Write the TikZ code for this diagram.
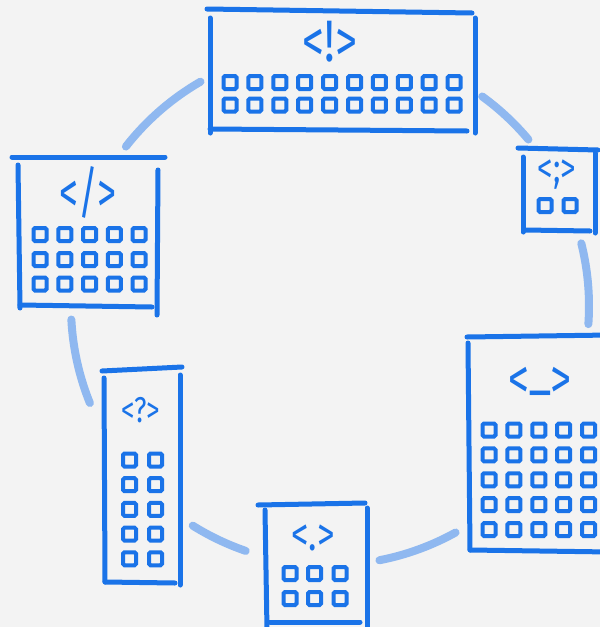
\documentclass[tikz,border=0pt]{standalone}
\usepackage{graphicx}
\usepackage{fontspec}
\newfontfamily\codefont{Fira Sans}
\definecolor{skblue}{HTML}{1A73E8}
\definecolor{sklight}{HTML}{8FB8F0}
\definecolor{skbg}{HTML}{F3F3F3}
\tikzset{
  rim/.style={draw=skblue,line width=5pt,line cap=round},
  cell/.style={draw=skblue,line width=4pt,rounded corners=1.5pt},
  ring/.style={draw=sklight,line width=8pt,line cap=round},
  codetag/.style={text=skblue,inner sep=0pt,font=\codefont\fontsize{#1}{#1}\selectfont},
}
\newcommand{\cellat}[2]{\draw[cell] ({#1-6.5},{#2-6.5}) rectangle ({#1+6.5},{#2+6.5});}
\newcommand{\tall}[2][1.33]{\scalebox{1}[#1]{#2}}

\begin{document}
\begin{tikzpicture}[x=1pt,y=-1pt]
\fill[skbg] (0,0) rectangle (600,627);
\clip (0,0) rectangle (600,627);
% ring segments between the panels
\foreach \a/\b in {-142/-120,-54/-40,-14/4,-202/-183,-251/-238,-299/-281}
  \draw[ring] ([shift={(330,306)}]\a:259) arc[start angle=\a,end angle=\b,radius=259];
% top panel
\draw[rim] (207,9) -- (472,13);
\draw[rim] (210,18) -- (210,133);
\draw[rim] (475,18) -- (475,133);
\draw[rim] (210,129) -- (467,131);
\node[codetag=44] (bang) at (330,42) {\tall{<!>}};
\foreach \i in {0,...,9} {\foreach \y in {82.5,105} {\cellat{230+24.9*\i}{\y}}}
% small right panel
\draw[rim] (518,148) -- (598,150);
\draw[rim] (523,157) -- (523,232);
\draw[rim] (595,153) -- (595,233);
\draw[rim] (525,230) -- (590,231);
\node[codetag=31] (semi) at (557,175) {\tall{<;>}};
\foreach \x in {545,570} {\cellat{\x}{205.5}}
% left panel
\draw[rim] (12,157) -- (165,157);
\draw[rim] (18,165) -- (20,308);
\draw[rim] (158,170) -- (157,315);
\draw[rim] (20,305) -- (152,307);
\node[codetag=38] (slash) at (88,192) {\tall[1.5]{</>}};
\foreach \i in {0,...,4} {\foreach \y in {234.5,259.5,284} {\cellat{40+24.75*\i}{\y}}}
% tall lower-left panel
\draw[rim] (102,371) -- (182,367);
\draw[rim] (104,378) -- (105,582);
\draw[rim] (180,375) -- (180,585);
\draw[rim] (105,582) -- (175,583);
\node[codetag=27] (query) at (141,410) {\tall{<?>}};
\foreach \x in {129.5,155.5} {\foreach \j in {0,...,4} {\cellat{\x}{460+24.7*\j}}}
% bottom panel
\draw[rim] (258,505) -- (365,503);
\draw[rim] (265,510) -- (267,630);
\draw[rim] (367,508) -- (367,630);
\draw[rim] (270,622) -- (360,622);
\node[codetag=35] (dot) at (313,538) {\tall{<.>}};
\foreach \x in {290,314.5,340} {\foreach \y in {573.5,598.5} {\cellat{\x}{\y}}}
% large right panel
\draw[rim] (467,337) -- (610,335);
\draw[rim] (468,343) -- (470,550);
\draw[rim] (470,550) -- (610,552);
\node[codetag=42,anchor=base] (under) at (540,398) {\tall[1.35]{<\raisebox{8pt}{\_}>}};
\foreach \i in {0,...,5} {\foreach \j in {0,...,4} {\cellat{489+24.9*\i}{430+24.9*\j}}}
\end{tikzpicture}
\end{document}
